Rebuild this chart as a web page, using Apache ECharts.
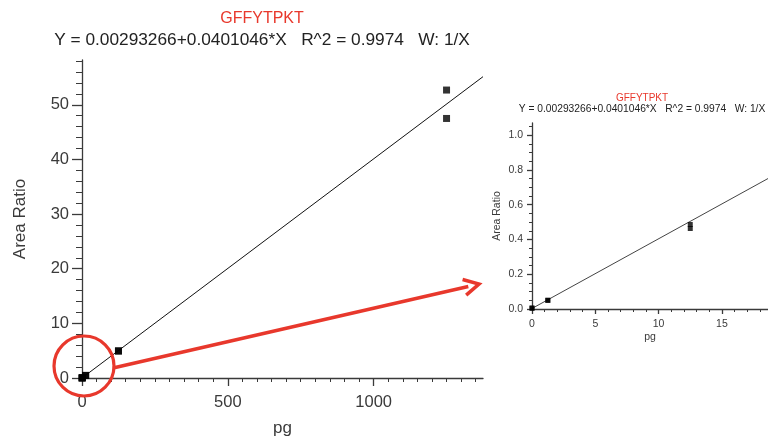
<!DOCTYPE html>
<html>
<head>
<meta charset="utf-8">
<script src="https://cdn.jsdelivr.net/npm/echarts@6/dist/echarts.min.js"></script>
<style>
  html, body { margin: 0; padding: 0; background: #fff; }
  #chart { width: 768px; height: 442px; }
</style>
</head>
<body>
<div id="chart"></div>
<script>
// calibration points (pg, area ratio)
const amountPg = [0, 0, 1.25, 1.25, 12.5, 12.5, 125, 125, 1250, 1250];
const areaRatio = [0.004, 0.006, 0.05, 0.05, 0.463, 0.486, 4.9, 5.0, 47.5, 52.7];

// weighted fit shown in the title
const intercept = 0.00293266;
const slope = 0.0401046;
const mainFitX = [0, 1375];
const insetFitX = [0, 18.64];

// axis ticks
const mainXTicks = [0, 500, 1000];
const mainYTicks = [0, 10, 20, 30, 40, 50];
const insetXTicks = [0, 5, 10, 15];
const insetYTicks = [0, 0.2, 0.4, 0.6, 0.8, 1.0];

const peptide = 'GFFYTPKT';
const equation = 'Y = 0.00293266+0.0401046*X   R^2 = 0.9974   W: 1/X';

const FONT = '"Liberation Sans", Arial, sans-serif';
const RED = '#e8382c';
const INK = '#3a3a3a';

const points = amountPg.map((x, i) => [x, areaRatio[i]]);
const fitLine = (xs) => xs.map((x) => [x, intercept + slope * x]);
const steps = (to, step) => {
  const out = [];
  for (let i = 0; i * step <= to + 1e-9; i++) out.push(+(i * step).toFixed(4));
  return out;
};

// labelled axis with major ticks
const majorAxis = (o) => ({
  type: 'value', gridIndex: o.grid, min: 0, max: o.max, interval: o.interval, position: o.pos,
  name: o.name, nameLocation: 'middle', nameGap: o.nameGap,
  nameTextStyle: { color: INK, fontFamily: FONT, fontSize: o.nameSize },
  axisLine: { show: true, onZero: false, lineStyle: { color: INK, width: 1.3 } },
  axisTick: { show: true, length: o.tickLen, customValues: o.ticks, lineStyle: { color: INK, width: 1.3 } },
  axisLabel: { color: INK, fontFamily: FONT, fontSize: o.fontSize, margin: o.margin,
    customValues: o.ticks, formatter: o.fmt },
  splitLine: { show: false },
});

// unlabelled axis carrying the short minor ticks
const minorAxis = (o) => ({
  type: 'value', gridIndex: o.grid, min: 0, max: o.max, interval: o.step, position: o.pos,
  axisLine: { show: false, onZero: false },
  axisTick: { show: true, length: o.len, customValues: steps(o.max, o.step),
    lineStyle: { color: INK, width: 1 } },
  axisLabel: { show: false },
  splitLine: { show: false },
});

const chart = echarts.init(document.getElementById('chart'), null, { renderer: 'canvas' });

chart.setOption({
  animation: false,
  title: [
    { text: peptide, left: 257, top: 6, textAlign: 'center',
      textStyle: { color: RED, fontFamily: FONT, fontSize: 16, fontWeight: 'normal' } },
    { text: equation, left: 257, top: 27, textAlign: 'center',
      textStyle: { color: '#222', fontFamily: FONT, fontSize: 17.3, fontWeight: 'normal' } },
    { text: peptide, left: 637, top: 88, textAlign: 'center',
      textStyle: { color: RED, fontFamily: FONT, fontSize: 10, fontWeight: 'normal' } },
    { text: equation, left: 637, top: 99, textAlign: 'center',
      textStyle: { color: '#222', fontFamily: FONT, fontSize: 10.25, fontWeight: 'normal' } },
  ],
  grid: [
    { left: 82, top: 60, right: 285, bottom: 60 },
    { left: 532, top: 123, right: 0, bottom: 133 },
  ],
  xAxis: [
    majorAxis({ grid: 0, max: 1375, interval: 500, pos: 'bottom', ticks: mainXTicks, tickLen: 8,
      name: 'pg', nameGap: 42, nameSize: 17, fontSize: 16.5, margin: 16, fmt: (v) => String(v) }),
    majorAxis({ grid: 1, max: 18.64, interval: 5, pos: 'bottom', ticks: insetXTicks, tickLen: 5,
      name: 'pg', nameGap: 23, nameSize: 10.5, fontSize: 10.5, margin: 10, fmt: (v) => String(v) }),
    minorAxis({ grid: 0, max: 1375, step: 50, pos: 'bottom', len: 4 }),
    minorAxis({ grid: 1, max: 18.64, step: 1, pos: 'bottom', len: 3 }),
  ],
  yAxis: [
    majorAxis({ grid: 0, max: 58.2, interval: 10, pos: 'left', ticks: mainYTicks, tickLen: 10,
      name: 'Area Ratio', nameGap: 53, nameSize: 17, fontSize: 16.5, margin: 13, fmt: (v) => String(v) }),
    majorAxis({ grid: 1, max: 1.07, interval: 0.2, pos: 'left', ticks: insetYTicks, tickLen: 5,
      name: 'Area Ratio', nameGap: 29, nameSize: 10.5, fontSize: 10.5, margin: 9, fmt: (v) => v.toFixed(1) }),
    minorAxis({ grid: 0, max: 58.2, step: 2, pos: 'left', len: 6 }),
    minorAxis({ grid: 1, max: 1.07, step: 0.05, pos: 'left', len: 3 }),
  ],
  series: [
    { type: 'line', xAxisIndex: 0, yAxisIndex: 0, data: fitLine(mainFitX), symbol: 'none',
      lineStyle: { color: '#111', width: 1 }, z: 2 },
    { type: 'scatter', xAxisIndex: 0, yAxisIndex: 0, data: points, symbol: 'rect', symbolSize: 7,
      itemStyle: { color: '#000' }, z: 5 },
    { type: 'line', xAxisIndex: 1, yAxisIndex: 1, data: fitLine(insetFitX), symbol: 'none',
      lineStyle: { color: '#444', width: 1 }, z: 2 },
    { type: 'scatter', xAxisIndex: 1, yAxisIndex: 1, data: points, symbol: 'rect', symbolSize: 5,
      itemStyle: { color: '#000' }, z: 5 },
  ],
});

// zoom-in annotation: red circle around the origin of the main plot, arrow to the inset
const origin = chart.convertToPixel({ gridIndex: 0 }, [0, 0]);
const insetOrigin = chart.convertToPixel({ gridIndex: 1 }, [0, 0]);
const cx = origin[0] + 2, cy = origin[1] - 12, r = 30;
const start = [cx + r - 1, cy + 2];
const tip = [insetOrigin[0] - 53, insetOrigin[1] - 25];
const ang = Math.atan2(tip[1] - start[1], tip[0] - start[0]);
const headLen = 15, headW = 8;
const back = [tip[0] - headLen * Math.cos(ang), tip[1] - headLen * Math.sin(ang)];
const nx = -Math.sin(ang), ny = Math.cos(ang);

chart.setOption({
  graphic: [
    { type: 'circle', shape: { cx, cy, r }, style: { fill: 'none', stroke: RED, lineWidth: 3.2 }, z: 10 },
    { type: 'line', shape: { x1: start[0], y1: start[1], x2: back[0] + 4 * Math.cos(ang), y2: back[1] + 4 * Math.sin(ang) },
      style: { stroke: RED, lineWidth: 3.5 }, z: 10 },
    { type: 'polyline', shape: { points: [
        [back[0] + headW * nx, back[1] + headW * ny], tip, [back[0] - headW * nx, back[1] - headW * ny]] },
      style: { stroke: RED, fill: 'none', lineWidth: 3.5, lineJoin: 'miter' }, z: 10 },
  ],
});
</script>
</body>
</html>
